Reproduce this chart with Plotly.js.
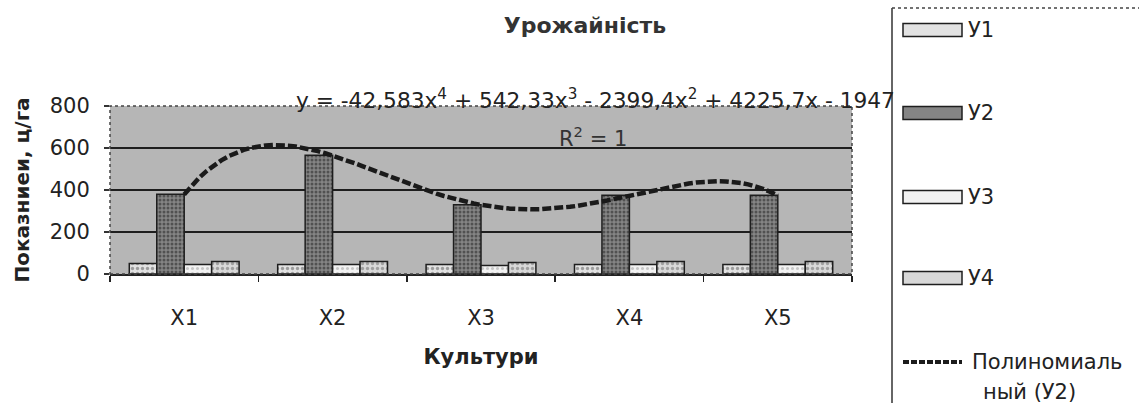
<!DOCTYPE html>
<html><head><meta charset="utf-8">
<script src="https://cdn.plot.ly/plotly-3.0.1.min.js"></script>
<style>html,body{margin:0;padding:0;background:#fff;} #chart{width:1139px;height:403px;}</style>
</head><body><div id="chart"></div>
<script>
// ---- data ----
const categories = ['X1', 'X2', 'X3', 'X4', 'X5'];
const categoryPos = [1, 2, 3, 4, 5];
const u1 = [50, 45, 45, 45, 45];
const u2 = [380, 565, 330, 375, 375];
const u3 = [45, 45, 40, 45, 45];
const u4 = [60, 60, 55, 60, 60];
const yTicks = [0, 200, 400, 600, 800];
const trendCoef = [-42.583, 542.33, -2399.4, 4225.7, -1947]; // x^4 ... x^0 (from the chart's equation)
const seriesNames = ['У1', 'У2', 'У3', 'У4'];
const trendNameLines = ['Полиномиаль', 'ный (У2)'];
const chartTitle = 'Урожайність';
const yTitle = 'Показниеи, ц/га';
const xTitle = 'Культури';
const eqText = 'y = -42,583x<sup>4</sup> + 542,33x<sup>3</sup> - 2399,4x<sup>2</sup> + 4225,7x - 1947';
const r2Text = 'R<sup>2</sup> = 1';

// ---- trendline from the displayed polynomial ----
function polyval(c, x) { return c.reduce((acc, k) => acc * x + k, 0); }
const tx = [], ty = [];
for (let i = 0; i <= 80; i++) { const x = categoryPos[0] + (categoryPos[categoryPos.length - 1] - categoryPos[0]) * i / 80; tx.push(x); ty.push(polyval(trendCoef, x)); }

// ---- layout helpers (pixel -> paper) ----
const W = 1139, H = 403, ML = 110, MR = 287, MT = 106, MB = 129;
const PW = W - ML - MR, PH = H - MT - MB;
const px = x => (x - ML) / PW;
const py = y => (H - MB - y) / PH;

const FONT = 'DejaVu Sans, Liberation Sans, Arial, sans-serif';
const styles = [
  {color: '#e2e2e2', fg: '#555', size: 5, sol: 0.35},
  {color: '#858585', fg: '#1e1e1e', size: 4, sol: 0.45},
  {color: '#f2f2f2', fg: '#999', size: 5, sol: 0.3},
  {color: '#d8d8d8', fg: '#666', size: 5, sol: 0.35}
];
const vals = [u1, u2, u3, u4];

const traces = vals.map((v, i) => ({
  type: 'bar', x: categoryPos, y: v, name: seriesNames[i], showlegend: false,
  marker: {color: styles[i].color, line: {color: '#1e1e1e', width: 1.5},
    pattern: {shape: '.', fgcolor: styles[i].fg, size: styles[i].size, solidity: styles[i].sol, fillmode: 'overlay'}}
}));
traces.push({type: 'scatter', mode: 'lines', x: tx, y: ty, name: trendNameLines.join(''), showlegend: false,
  line: {color: '#1a1a1a', width: 4.5, dash: '9px,3px'}});

const shapes = [
  {type: 'rect', xref: 'paper', yref: 'paper', x0: 0, x1: 1, y0: 0, y1: 1, line: {color: '#444', width: 1.5, dash: 'dot'}},
  // legend frame
  {type: 'line', xref: 'paper', yref: 'paper', x0: px(892), x1: px(892), y0: py(8), y1: py(410), line: {color: '#333', width: 1.5}},
  {type: 'line', xref: 'paper', yref: 'paper', x0: px(892), x1: px(1145), y0: py(8), y1: py(8), line: {color: '#444', width: 1.5, dash: 'dot'}}
];
const legendY = [30, 113, 197, 278];
const annotations = [];
legendY.forEach((y, i) => {
  shapes.push({type: 'rect', xref: 'paper', yref: 'paper', x0: px(903), x1: px(962), y0: py(y + 6.5), y1: py(y - 6.5),
    fillcolor: styles[i].color, line: {color: '#1e1e1e', width: 1.5}});
  annotations.push({xref: 'paper', yref: 'paper', x: px(966), y: py(y), xanchor: 'left', yanchor: 'middle', showarrow: false,
    text: seriesNames[i], font: {family: FONT, size: 21, color: '#222'}});
});
shapes.push({type: 'line', xref: 'paper', yref: 'paper', x0: px(903), x1: px(962), y0: py(362), y1: py(362), line: {color: '#1c1c1c', width: 4, dash: '6px,2px'}});
annotations.push({xref: 'paper', yref: 'paper', x: px(970), y: py(362), xanchor: 'left', yanchor: 'middle', showarrow: false,
  text: trendNameLines[0], font: {family: FONT, size: 21, color: '#222'}});
annotations.push({xref: 'paper', yref: 'paper', x: px(981), y: py(392), xanchor: 'left', yanchor: 'middle', showarrow: false,
  text: trendNameLines[1], font: {family: FONT, size: 21, color: '#222'}});
annotations.push({xref: 'paper', yref: 'paper', x: px(595), y: py(99), xanchor: 'center', yanchor: 'middle', showarrow: false,
  text: eqText, font: {family: FONT, size: 21.7, color: '#222'}});
annotations.push({xref: 'paper', yref: 'paper', x: px(593), y: py(137), xanchor: 'center', yanchor: 'middle', showarrow: false,
  text: r2Text, font: {family: FONT, size: 21, color: '#333'}});

const layout = {
  width: W, height: H, margin: {l: ML, r: MR, t: MT, b: MB, pad: 0},
  paper_bgcolor: '#ffffff', plot_bgcolor: '#b6b6b6',
  font: {family: FONT, size: 21, color: '#222'},
  title: {text: chartTitle, x: 585 / W, xref: 'container', y: 1 - 25 / H, yref: 'container', xanchor: 'center', yanchor: 'middle',
    font: {family: FONT, size: 22, weight: 'bold', color: '#333'}},
  barmode: 'group', bargap: 0.26, bargroupgap: 0,
  showlegend: false,
  xaxis: {range: [0.5, 5.5], tickmode: 'array', tickvals: categoryPos, ticktext: categories, ticks: '',
    showgrid: false, zeroline: false, showline: true, linecolor: '#222', linewidth: 1.5,
    minor: {tickmode: 'linear', tick0: 0.5, dtick: 1, ticks: 'outside', ticklen: 6, tickcolor: '#222', tickwidth: 1.5, showgrid: false},
    tickfont: {family: FONT, size: 21, color: '#222'}, ticklabelstandoff: 24, automargin: false,
    title: {text: xTitle, standoff: 20, font: {family: FONT, size: 21, weight: 'bold', color: '#222'}}},
  yaxis: {range: [0, 800], tickmode: 'array', tickvals: yTicks, ticks: 'outside', ticklen: 5, tickcolor: '#333', tickwidth: 1.5,
    showgrid: true, gridcolor: '#1e1e1e', gridwidth: 1.2, zeroline: false, showline: false, automargin: false,
    tickfont: {family: FONT, size: 21, color: '#222'}, ticklabelstandoff: 10,
    title: {text: yTitle, standoff: 14, font: {family: FONT, size: 20, weight: 'bold', color: '#222'}}},
  shapes: shapes, annotations: annotations
};
Plotly.newPlot('chart', traces, layout, {staticPlot: true, displayModeBar: false});
</script>
</body></html>
